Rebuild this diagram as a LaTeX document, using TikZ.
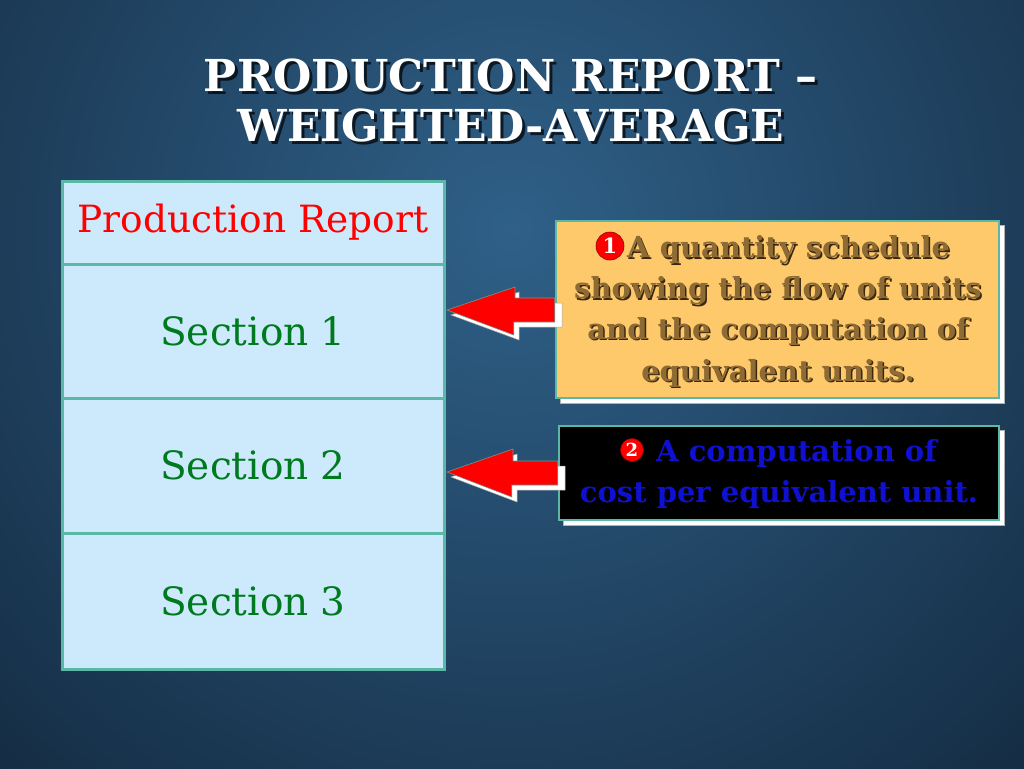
\documentclass[tikz,border=0pt]{standalone}
\usepackage{fontspec}
\setmainfont{DejaVu Serif}
\newfontfamily\symfont{DejaVu Sans}
\usetikzlibrary{calc}
\definecolor{bgin}{HTML}{2F6088}
\definecolor{bgout}{HTML}{0A1828}
\definecolor{teal}{HTML}{5CB8A6}
\definecolor{cellfill}{HTML}{CDEAFC}
\definecolor{secgreen}{HTML}{007A1E}
\definecolor{boxorange}{HTML}{FDC96B}
\definecolor{brown}{HTML}{8E6B34}
\definecolor{brownshadow}{HTML}{3A2810}
\definecolor{txtblue}{HTML}{1010D0}
\begin{document}
\begin{tikzpicture}[x=1pt,y=-1pt,
  cell/.style={draw=teal,line width=3pt,fill=cellfill,minimum width=382pt,inner sep=0pt},
  sectxt/.style={text=secgreen,font=\fontsize{39}{46}\selectfont},
  callbox/.style={draw=teal,line width=2.5pt,inner sep=0pt},
  boxshadow/.style={fill=white,draw=gray!60,line width=0.5pt},
  ttl/.style={font=\fontsize{44}{52}\bfseries\selectfont,text=white},
  ttlsh/.style={font=\fontsize{44}{52}\bfseries\selectfont,text=black,opacity=0.7},
  c1txt/.style={font=\fontsize{29}{34}\bfseries\selectfont,text=brown,inner sep=0pt},
  c1sh/.style={font=\fontsize{29}{34}\bfseries\selectfont,text=brownshadow,inner sep=0pt},
  c2txt/.style={font=\fontsize{29}{34}\bfseries\selectfont,text=txtblue,inner sep=0pt},
  badge/.style={circle,fill=red,draw=red!60!black,line width=0.6pt,text=white,inner sep=0pt},
  redarrow/.style={fill=red,draw=gray!60!teal,line width=0.6pt},
  arrowshadow/.style={fill=white,draw=gray!70,line width=0.5pt}
]
% background
\begin{scope}
\clip (0,0) rectangle (1024,768);
\shade[inner color=bgin,outer color=bgout] (512,230) circle (1050);
\end{scope}
\useasboundingbox (0,0) rectangle (1024,768);

% title
\node[ttlsh] at (514,78) {PRODUCTION REPORT –};
\node[ttl] (t1) at (511,75) {PRODUCTION REPORT –};
\node[ttlsh] at (514,128) {WEIGHTED-AVERAGE};
\node[ttl] (t2) at (511,125) {WEIGHTED-AVERAGE};

% table
\node[cell,minimum height=83pt] (hdr) at (253,222.5) {};
\node[text=red,font=\fontsize{37.5}{44}\selectfont] at (hdr.center) {Production Report};
\node[cell,minimum height=134pt] (s1) at (253,331) {};
\node[sectxt] at (s1.center) {Section 1};
\node[cell,minimum height=135pt] (s2) at (253,465.5) {};
\node[sectxt] at (s2.center) {Section 2};
\node[cell,minimum height=136pt] (s3) at (253,601) {};
\node[sectxt] at (s3.center) {Section 3};

% callout 1
\fill[boxshadow] (560,225) rectangle (1004,403);
\node[callbox,fill=boxorange,minimum width=443pt,minimum height=177pt] (c1) at (777.5,309.5) {};
% callout 2
\fill[boxshadow] (563,430) rectangle (1004,525);
\node[callbox,fill=black,minimum width=440pt,minimum height=94pt] (c2) at (779,473) {};

% arrow 1 (from callout 1 to section 1)
\coordinate (tip1) at (447,310);
\filldraw[arrowshadow] ($(tip1)+(4,5)$) -- ++(68,-23) -- ++(0,11) -- ++(43,0) -- ++(0,24) -- ++(-43,0) -- ++(0,13) -- cycle;
\filldraw[redarrow] (tip1) -- ++(68,-23) -- ++(0,11) -- (c1.west |- 0,298) -- (c1.west |- 0,322) -- ++(-41,0) -- ++(0,13) -- cycle;
% arrow 2
\coordinate (tip2) at (447,472);
\filldraw[arrowshadow] ($(tip2)+(4,5)$) -- ++(66,-23) -- ++(0,12) -- ++(48,0) -- ++(0,24) -- ++(-48,0) -- ++(0,12) -- cycle;
\filldraw[redarrow] (tip2) -- ++(66,-23) -- ++(0,12) -- (c2.west |- 0,461) -- (c2.west |- 0,485) -- ++(-46,0) -- ++(0,12) -- cycle;

% callout 1 text
\foreach \y/\t in {291/{showing the flow of units},331/{and the computation of},373/{equivalent units.}}{
  \node[c1sh] at (779.5,\y+1.5) {\t};
  \node[c1txt] at (778,\y) {\t};
}
\node[badge,minimum size=28pt,font=\bfseries\fontsize{21}{22}\selectfont] (b1) at (610,246) {1};
\node[c1sh,anchor=west] at (628.5,251.5) {A quantity schedule};
\node[c1txt,anchor=west] (l1) at (627,250) {A quantity schedule};

% callout 2 text
\node[badge,minimum size=23pt,font=\bfseries\fontsize{18}{19}\selectfont] (b2) at (632,450) {2};
\node[c2txt,anchor=west] (l2) at (656,453) {A computation of};
\node[c2txt] at (779,494) {cost per equivalent unit.};
\end{tikzpicture}
\end{document}
